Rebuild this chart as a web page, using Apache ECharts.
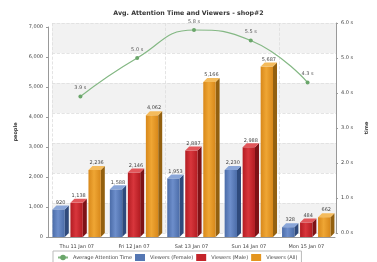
<!DOCTYPE html>
<html><head><meta charset="utf-8">
<script src="https://cdn.jsdelivr.net/npm/echarts@6/dist/echarts.min.js"></script>
<style>html,body{margin:0;padding:0;background:#fff}#c{width:377px;height:262px}</style>
</head><body><div id="c"></div>
<script>
var categories = ['Thu 11 Jan 07','Fri 12 Jan 07','Sat 13 Jan 07','Sun 14 Jan 07','Mon 15 Jan 07'];
var viewersFemale = [920, 1588, 1953, 2230, 328];
var viewersMale = [1138, 2146, 2887, 2988, 484];
var viewersAll = [2236, 4062, 5166, 5687, 662];
var attentionTime = [3.9, 5.0, 5.8, 5.5, 4.3];
var peopleTicks = {min:0, max:7000, interval:1000};
var timeTicks = {min:0, max:6, interval:1};

var FONT = 'DejaVu Sans';
var D = 4;
function fmt(v){ return v.toString().replace(/\B(?=(\d{3})+(?!\d))/g, ','); }

function bar3D(offFrac, frontA, frontB, topC, sideC){
  return function(params, api){
    var idx = api.value(0), val = api.value(1);
    var p = api.coord([idx, val]);
    var b = api.coord([idx, 0]);
    var cw = api.size([1,0])[0];
    var w = cw*0.215;
    var x = p[0] + cw*offFrac;
    var y = p[1], yb = b[1];
    return {type:'group', children:[
      {type:'polygon', shape:{points:[[x+w,y],[x+w+D,y-D],[x+w+D,yb-D],[x+w,yb]]}, style:{fill:sideC}},
      {type:'rect', shape:{x:x, y:y, width:w, height:yb-y},
        style:{fill:new echarts.graphic.LinearGradient(0,0,1,0,[{offset:0,color:frontA},{offset:0.45,color:frontB},{offset:1,color:frontA}])}},
      {type:'polygon', shape:{points:[[x,y],[x+D,y-D],[x+w+D,y-D],[x+w,y]]}, style:{fill:topC}},
      {type:'text', x:x+w/2+D/2, y:y-D-0.5, style:{text:fmt(val), fill:'#444', font:'5px "'+FONT+'"', textAlign:'center', textVerticalAlign:'bottom'}}
    ]};
  };
}
function toData(arr){ return arr.map(function(v,i){return [i,v];}); }

var chart = echarts.init(document.getElementById('c'), null, {renderer:'canvas'});
chart.setOption({
  animation:false,
  backgroundColor:'#fff',
  textStyle:{fontFamily:FONT},
  title:{text:'Avg. Attention Time and Viewers - shop#2', left:'center', top:5,
    textStyle:{fontSize:6.3, fontWeight:'bold', color:'#333', fontFamily:FONT}},
  legend:{left:53, top:251, itemWidth:10, itemHeight:7, itemGap:3, padding:[3,4],
    borderColor:'#bbb', borderWidth:1,
    textStyle:{fontSize:5, color:'#444', fontFamily:FONT},
    data:[{name:'Average Attention Time'},{name:'Viewers (Female)',icon:'rect'},{name:'Viewers (Male)',icon:'rect'},{name:'Viewers (All)',icon:'rect'}]},
  grid:[
    {left:48, right:42, top:27, bottom:25},
    {left:52, right:38, top:23, bottom:29}
  ],
  xAxis:[
    {type:'category', gridIndex:0, data:categories, boundaryGap:true,
      axisLine:{lineStyle:{color:'#999'}}, axisTick:{show:false},
      axisLabel:{fontSize:5, color:'#444', margin:7, fontFamily:FONT}},
    {type:'category', gridIndex:1, data:categories, boundaryGap:true,
      axisLine:{show:false}, axisTick:{show:false}, axisLabel:{show:false},
      splitLine:{show:true, lineStyle:{color:'#ddd', type:'dashed', width:0.8}}}
  ],
  yAxis:[
    {type:'value', gridIndex:0, min:peopleTicks.min, max:peopleTicks.max, interval:peopleTicks.interval,
      name:'people', nameLocation:'middle', nameGap:24, nameRotate:90,
      nameTextStyle:{fontSize:5, fontWeight:'bold', color:'#333', fontFamily:FONT},
      axisLine:{show:true, lineStyle:{color:'#999'}}, axisTick:{show:true, length:2, lineStyle:{color:'#999'}},
      axisLabel:{fontSize:5, color:'#444', margin:5, fontFamily:FONT, formatter:function(v){return fmt(v);}},
      splitLine:{show:false}},
    {type:'value', gridIndex:1, position:'left', min:peopleTicks.min, max:peopleTicks.max, interval:peopleTicks.interval,
      axisLine:{show:false}, axisTick:{show:false}, axisLabel:{show:false},
      splitLine:{show:true, lineStyle:{color:'#ddd', type:'dashed', width:0.8}},
      splitArea:{show:true, areaStyle:{color:['#f2f2f2','#ffffff']}}},
    {type:'value', gridIndex:1, position:'right', min:timeTicks.min, max:timeTicks.max, interval:timeTicks.interval,
      name:'time', nameLocation:'middle', nameGap:21, nameRotate:90,
      nameTextStyle:{fontSize:5, fontWeight:'bold', color:'#333', fontFamily:FONT},
      axisLine:{show:true, lineStyle:{color:'#999'}}, axisTick:{show:true, length:2, lineStyle:{color:'#999'}},
      axisLabel:{fontSize:5, color:'#444', margin:5, fontFamily:FONT, formatter:function(v){return v.toFixed(1)+' s';}},
      splitLine:{show:false}}
  ],
  series:[
    {name:'Viewers (Female)', type:'custom', xAxisIndex:0, yAxisIndex:0, encode:{x:0,y:1},
      itemStyle:{color:'#5577b3'}, data:toData(viewersFemale),
      renderItem:bar3D(-0.4225, '#4b6ca8', '#6d8ecb', '#8aa6d8', '#2f4a7c'), z:3},
    {name:'Viewers (Male)', type:'custom', xAxisIndex:0, yAxisIndex:0, encode:{x:0,y:1},
      itemStyle:{color:'#c4242a'}, data:toData(viewersMale),
      renderItem:bar3D(-0.109, '#b31c22', '#d8363c', '#e2575b', '#7e1216'), z:3},
    {name:'Viewers (All)', type:'custom', xAxisIndex:0, yAxisIndex:0, encode:{x:0,y:1},
      itemStyle:{color:'#e4951f'}, data:toData(viewersAll),
      renderItem:bar3D(0.205, '#d8881a', '#efa634', '#f4bb5c', '#93600f'), z:3},
    {name:'Average Attention Time', type:'line', xAxisIndex:1, yAxisIndex:2, data:attentionTime,
      smooth:true, symbol:'circle', symbolSize:4,
      lineStyle:{color:'#84b884', width:1.2}, itemStyle:{color:'#6aa66a'},
      label:{show:true, position:'top', distance:4, fontSize:5, color:'#555', fontFamily:FONT,
        formatter:function(p){return p.value.toFixed(1)+' s';}}, z:5}
  ]
});
</script></body></html>
